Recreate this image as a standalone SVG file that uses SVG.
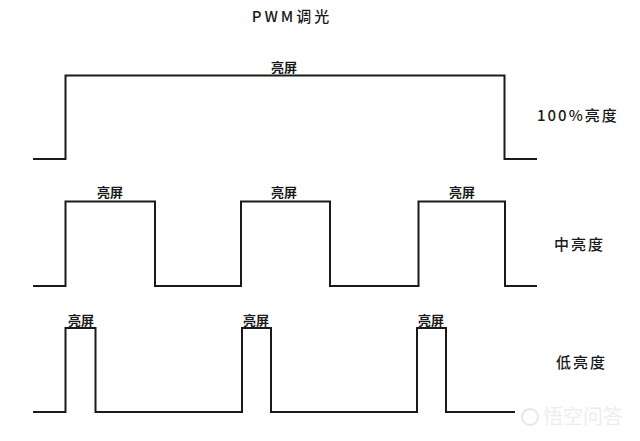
<svg xmlns="http://www.w3.org/2000/svg" width="640" height="441" viewBox="0 0 640 441">
<style>
.w{fill:none;stroke:#1a1a1a;stroke-width:2;stroke-linejoin:miter}
.t{font-family:"Noto Sans CJK SC","Noto Sans",sans-serif;fill:#1a1a1a}
.lb{font-size:13px;text-anchor:middle;font-weight:700}
.side{font-size:15px;letter-spacing:2px;font-weight:500}
</style>
<rect width="640" height="441" fill="#ffffff"/>
<text class="t" x="292" y="22" font-size="15" text-anchor="middle" letter-spacing="3" font-weight="500">PWM调光</text>
<g id="connectors">
<path id="full" class="w" d="M33 159 H65.5 V75.5 H504.5 V159 H537"/>
<path id="mid" class="w" d="M33 286 H65.5 V201.5 H155 V286 H241 V201.5 H330 V286 H418.5 V201.5 H505 V286 H537"/>
<path id="low" class="w" d="M33 412 H65.5 V328 H95.5 V412 H242 V328 H271 V412 H417 V328 H446 V412 H515"/>
</g>
<g id="n-full">
<text class="t lb" x="284" y="72">亮屏</text>
<text class="t side" x="537" y="121">100%亮度</text>
</g>
<g id="n-mid">
<text class="t lb" x="110" y="197">亮屏</text>
<text class="t lb" x="284" y="197">亮屏</text>
<text class="t lb" x="462" y="197">亮屏</text>
<text class="t side" x="554" y="250">中亮度</text>
</g>
<g id="n-low">
<text class="t lb" x="81" y="325">亮屏</text>
<text class="t lb" x="256" y="325">亮屏</text>
<text class="t lb" x="431" y="325">亮屏</text>
<text class="t side" x="556" y="368">低亮度</text>
</g>
<g id="watermark" opacity="0.35">
<circle cx="530" cy="417" r="8" fill="none" stroke="#bbbbbb" stroke-width="2"/>
<text x="543" y="424" font-family="Noto Sans CJK SC,sans-serif" font-size="20" fill="#cccccc">悟空问答</text>
</g>
</svg>
